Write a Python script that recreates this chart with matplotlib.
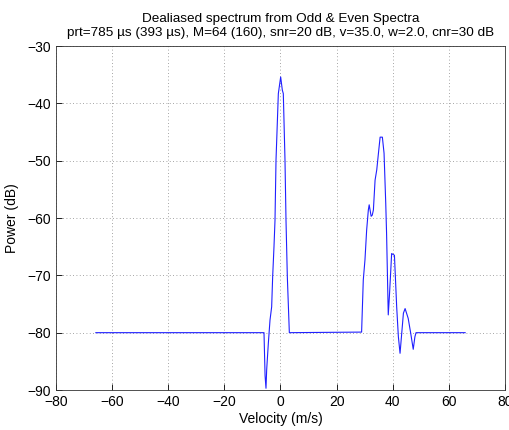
import matplotlib
matplotlib.use("Agg")
import matplotlib.pyplot as plt

velocity = [-65.8, -5.88, -5.5, -5.17, -4.93, -4.34, -3.74, -3.15, -2.79, -2.32, -1.96, -1.6,
            -0.77, 0.06, 0.65, 1.0, 1.6, 1.96, 2.43, 3.15,
            28.9, 29.5, 30.1, 30.7, 31.3, 31.6, 32.3, 32.7, 33.1, 33.7, 34.3, 34.9, 35.5, 36.3,
            36.9, 37.5, 37.8, 38.4, 38.8, 39.3, 39.6, 40.6, 41.4, 42.0, 42.6, 43.2, 43.8, 44.4,
            45.5, 46.4, 47.3, 47.9, 48.3, 65.8]
power = [-80, -80, -87.5, -89.7, -86.5, -81.9, -77.8, -75.5, -70.2, -65.0, -60.4, -49.9,
         -38.3, -35.4, -37.7, -38.3, -49.9, -60.4, -70.2, -80,
         -79.9, -70.8, -67.3, -62.1, -58.6, -57.7, -59.7, -59.5, -58.6, -53.4, -51.6, -48.7, -45.9, -45.9,
         -48.7, -57.4, -62.7, -76.9, -73.7, -69.1, -66.2, -66.5, -75.5, -80.7, -83.6, -80.1, -76.6, -75.8,
         -77.5, -80.1, -82.9, -80.7, -80, -80]

xticks = [-80, -60, -40, -20, 0, 20, 40, 60, 80]
yticks = [-90, -80, -70, -60, -50, -40, -30]
title = "Dealiased spectrum from Odd & Even Spectra\nprt=785 \u00b5s (393 \u00b5s), M=64 (160), snr=20 dB, v=35.0, w=2.0, cnr=30 dB"

plt.rcParams['font.family'] = ['Liberation Sans', 'DejaVu Sans']
fig = plt.figure(figsize=(5.1, 4.3), dpi=100)
ax = fig.add_axes([56/510, 40/430, 449/510, 344/430])
ax.plot(velocity, power, color='#2020ff', linewidth=0.8)
ax.set_xlim(-80, 80)
ax.set_ylim(-90, -30)
ax.set_xticks(xticks)
ax.set_yticks(yticks)
ax.tick_params(direction='in', labelsize=10, length=4, width=0.6, colors='black')
ax.grid(True, linestyle=(0, (1, 3)), color='#888888', linewidth=0.6)
for s in ax.spines.values():
    s.set_linewidth(0.6)
    s.set_color('#333333')
ax.set_xlabel('Velocity (m/s)', fontsize=10, labelpad=2)
ax.set_ylabel('Power (dB)', fontsize=10, labelpad=6)
ax.set_title(title, fontsize=9.7, linespacing=1.2, pad=7)
fig.savefig('out.png', dpi=100)
